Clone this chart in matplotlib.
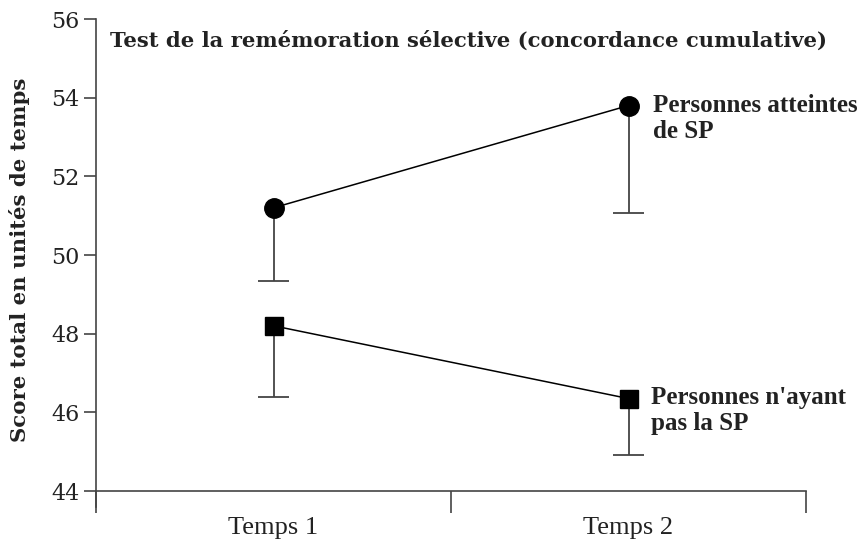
import numpy as np
import matplotlib.pyplot as plt

temps = ['Temps 1', 'Temps 2']
sp_moy = [51.2, 53.8]
sp_bas = [49.35, 51.08]
sans_sp_moy = [48.2, 46.35]
sans_sp_bas = [46.4, 44.92]

fig = plt.figure(figsize=(8.58, 5.40), dpi=100)
ax = fig.add_axes([96 / 858, 49 / 540, 710 / 858, 472 / 540])

x = np.array([0.5, 1.5])
grey = '#444444'
txt = '#222222'

# barres d'erreur vers le bas seulement
for moy, bas in [(sp_moy, sp_bas), (sans_sp_moy, sans_sp_bas)]:
    ax.vlines(x, bas, moy, color=grey, lw=1.3, zorder=1)
    ax.hlines(bas, x - 0.043, x + 0.043, color=grey, lw=1.3, zorder=1)

ax.plot(x, sp_moy, color='black', lw=1.1, zorder=2)
ax.plot(x, sans_sp_moy, color='black', lw=1.1, zorder=2)
ax.plot(x, sp_moy, 'o', color='black', ms=14, zorder=3)
ax.plot(x, sans_sp_moy, 's', color='black', ms=13, zorder=3)

ax.set_xlim(0, 2)
ax.set_ylim(44, 56)
ax.set_yticks(np.arange(44, 57, 2))
ax.set_xticks([0, 1, 2])
ax.set_xticklabels([])
ax.set_xticks(x, minor=True)
ax.set_xticklabels(temps, minor=True, family='Liberation Serif', fontsize=19, color=txt)
ax.tick_params(axis='x', which='major', direction='out', length=16, width=1.2, color=grey)
ax.tick_params(axis='x', which='minor', length=0, pad=19)
ax.tick_params(axis='y', direction='out', length=9, width=1.2, color=grey, pad=3)
for lab in ax.get_yticklabels():
    lab.set_family('DejaVu Serif')
    lab.set_fontsize(16)
    lab.set_color(txt)

for s in ['top', 'right']:
    ax.spines[s].set_visible(False)
for s in ['left', 'bottom']:
    ax.spines[s].set_color(grey)
    ax.spines[s].set_linewidth(1.2)
ax.spines['left'].set_bounds(43.6, 56)

ax.set_ylabel('Score total en unités de temps', family='DejaVu Serif',
              fontweight='bold', fontsize=15.3, color=txt)
ax.yaxis.set_label_coords(-0.093, 0.49)

ax.text(0.04, 55.45, 'Test de la remémoration sélective (concordance cumulative)',
        family='DejaVu Serif', fontweight='bold', fontsize=15.2, va='center', color=txt)

ax.text(1.569, 52.97, 'Personnes atteintes\nde SP', family='Liberation Serif',
        fontweight='bold', fontsize=18, va='baseline', ha='left', linespacing=1.15,
        color=txt)
ax.text(1.563, 45.55, "Personnes n'ayant\npas la SP", family='Liberation Serif',
        fontweight='bold', fontsize=18, va='baseline', ha='left', linespacing=1.15,
        color=txt)

fig.savefig('out.png', dpi=100)
